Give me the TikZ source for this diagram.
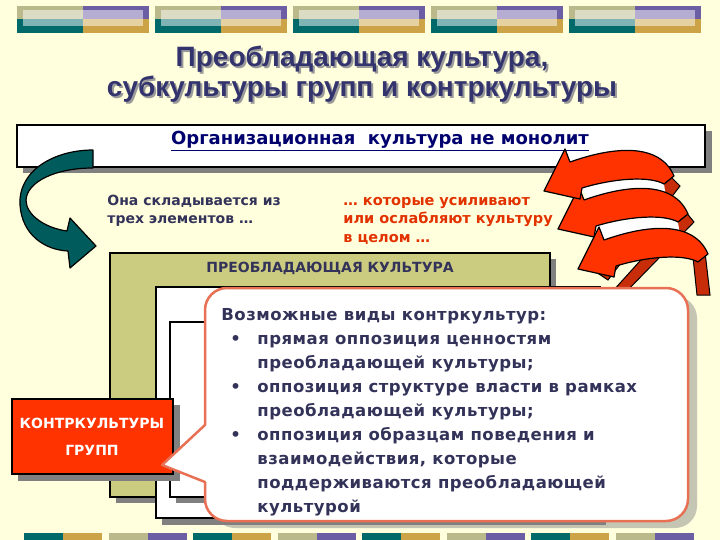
\documentclass[tikz,border=0pt]{standalone}
\usepackage{fontspec}
\setmainfont{DejaVu Sans}
\newfontfamily\titlefont{Liberation Sans}
\usepackage{tikz}
\usetikzlibrary{calc}
\definecolor{bg}{RGB}{255, 255, 222}
\definecolor{titleblue}{RGB}{51, 51, 110}
\definecolor{orgblue}{RGB}{0, 0, 110}
\definecolor{navy}{RGB}{51, 51, 90}
\definecolor{redtext}{RGB}{226, 50, 0}
\definecolor{khaki}{RGB}{204, 204, 128}
\definecolor{stripkhaki}{RGB}{185, 185, 140}
\definecolor{tealdark}{RGB}{0, 105, 105}
\definecolor{arrowteal}{RGB}{0, 92, 92}
\definecolor{gold}{RGB}{204, 163, 70}
\definecolor{purp}{RGB}{108, 94, 165}
\definecolor{redbox}{RGB}{255, 51, 0}
\definecolor{backred}{RGB}{200, 45, 10}
\definecolor{rim}{RGB}{232, 112, 84}
\definecolor{shadowgray}{RGB}{128, 128, 128}

\begin{document}
\begin{tikzpicture}[x=1pt, y=-1pt, thick,
  box/.style={draw=black, line width=2pt},
  drop/.style={fill=shadowgray},
  ribbon/.style={fill=redbox, draw=black, line width=1.2pt, line join=round},
  boxtext/.style={font=\bfseries\fontsize{14}{16}\selectfont, text=navy}]

  \useasboundingbox (0, 0) rectangle (720, 540);
  \fill[bg] (0, 0) rectangle (720, 540);

  % stripes on top
  \foreach \i in {0, ..., 4} {
    \begin{scope}[xshift=\i*138pt]
      \fill[stripkhaki] (17, 6) rectangle (83, 19.5);
      \fill[tealdark] (17, 19.5) rectangle (83, 33);
      \fill[purp] (83, 6) rectangle (149, 19.5);
      \fill[gold] (83, 19.5) rectangle (149, 33);
      \fill[white, opacity=0.5] (23, 10) rectangle (143, 26);
    \end{scope}
  }

  % stripes at the bottom
  \foreach \j/\ca/\cb in {0/tealdark/gold, 1/stripkhaki/purp, 2/tealdark/gold, 3/stripkhaki/purp,
                          4/tealdark/gold, 5/stripkhaki/purp, 6/tealdark/gold, 7/stripkhaki/purp} {
    \fill[\ca] ({24 + 84.5*\j}, 533) rectangle ({63 + 84.5*\j}, 540);
    \fill[\cb] ({63 + 84.5*\j}, 533) rectangle ({102 + 84.5*\j}, 540);
  }

  % title
  \node[align=center, font=\titlefont\bfseries\fontsize{28}{30}\selectfont, text=shadowgray!80]
    (titleshadow) at (364, 76) {Преобладающая культура,\\субкультуры групп и контркультуры};
  \node[align=center, font=\titlefont\bfseries\fontsize{28}{30}\selectfont, text=titleblue]
    (title) at (362, 74) {Преобладающая культура,\\субкультуры групп и контркультуры};

  % top box
  \fill[drop] (23, 131) rectangle (712, 173);
  \filldraw[box, fill=white] (17, 125) rectangle (705, 167);
  \node[font=\bfseries\fontsize{18}{20}\selectfont, text=orgblue]
    (monolith) at (380, 141) {\underline{Организационная\ \ культура не монолит}};

  \node[anchor=north west, align=left, inner sep=0, font=\bfseries\fontsize{14}{18.5}\selectfont, text=navy]
    (elements) at (107, 192) {\strut Она складывается из\\трех элементов …};
  \node[anchor=north west, align=left, inner sep=0, font=\bfseries\fontsize{14.5}{18.5}\selectfont, text=redtext]
    (weaken) at (343, 192) {\strut … которые усиливают\\или ослабляют культуру\\в целом …};

  % teal arrow
  \filldraw[fill=arrowteal, draw=black, line width=1.2pt, line join=round]
    (93, 150) .. controls (55, 150) and (18, 170) .. (20, 205)
    .. controls (22, 235) and (45, 250) .. (68, 251) -- (70, 268) -- (96, 246) -- (70, 218)
    -- (67, 231) .. controls (45, 228) and (26, 215) .. (26, 200)
    .. controls (27, 182) and (55, 168) .. (93, 168) -- cycle;

  % red arrows
  \fill[backred, draw=black, line width=1pt] (596, 272) -- (608, 280) -- (680, 186) -- (670, 176) -- cycle;
  \fill[backred, draw=black, line width=1pt] (612, 292) -- (624, 294) -- (694, 222) -- (685, 211) -- cycle;
  \fill[backred, draw=black, line width=1pt] (692, 248) -- (705, 252) -- (710, 295) -- (697, 295) -- cycle;
  \fill[white] (582, 188) .. controls (615, 178) and (650, 176) .. (664, 184) -- (666, 198) .. controls (650, 190) and (615, 194) .. (590, 204) -- cycle;
  \fill[white] (596, 226) .. controls (629, 216) and (664, 214) .. (678, 222) -- (680, 236) .. controls (664, 228) and (629, 232) .. (604, 242) -- cycle;
  \foreach \dx/\dy in {34/78, 14/38, 0/0} {
    \begin{scope}[xshift=\dx pt, yshift=-\dy pt]
      \filldraw[ribbon] (544, 191) -- (565, 149) -- (570, 162)
        .. controls (615, 146) and (660, 143) .. (674, 176) -- (664, 184)
        .. controls (650, 176) and (615, 178) .. (582, 188) -- (580, 199) -- cycle;
    \end{scope}
  }

  % prevailing culture and groups
  \fill[drop] (116, 259) rectangle (556, 503);
  \filldraw[box, fill=khaki] (110, 253) rectangle (550, 497);
  \node[boxtext] (prevailing) at (330, 268) {ПРЕОБЛАДАЮЩАЯ КУЛЬТУРА};

  \fill[drop] (162, 293) rectangle (606, 525);
  \filldraw[box, fill=white] (156, 287) rectangle (600, 518);
  \fill[drop] (176, 328) rectangle (606, 503);
  \filldraw[box, fill=white] (170, 322) rectangle (600, 497);

  \fill[drop] (18, 405) rectangle (180, 481);
  \filldraw[box, fill=redbox] (12, 399) rectangle (173, 474);
  \node[boxtext, text=white] (counter) at (92, 423) {КОНТРКУЛЬТУРЫ};
  \node[boxtext, text=white] (groups) at (92, 450) {ГРУПП};

  % callout
  \fill[shadowgray, opacity=0.45, rounded corners=22] (213, 296) rectangle (697, 528);
  \filldraw[fill=white, draw=rim, line width=2.5pt, line join=round]
    (162, 465) -- (205, 425) [rounded corners=22] -- (205, 288) -- (688, 288) -- (688, 521)
    -- (205, 521) [sharp corners] -- (205, 482) -- cycle;
  \node[anchor=north west, align=left, inner sep=0,
        font=\addfontfeature{LetterSpace=3}\bfseries\fontsize{16.5}{24}\selectfont, text=navy]
    (kinds) at (221, 303) {\strut Возможные виды контркультур:\\
    \makebox[36pt][l]{\hspace{9pt}•}прямая оппозиция ценностям\\
    \hspace{36pt}преобладающей культуры;\\
    \makebox[36pt][l]{\hspace{9pt}•}оппозиция структуре власти в рамках\\
    \hspace{36pt}преобладающей культуры;\\
    \makebox[36pt][l]{\hspace{9pt}•}оппозиция образцам поведения и\\
    \hspace{36pt}взаимодействия, которые\\
    \hspace{36pt}поддерживаются преобладающей\\
    \hspace{36pt}культурой};

\end{tikzpicture}
\end{document}
